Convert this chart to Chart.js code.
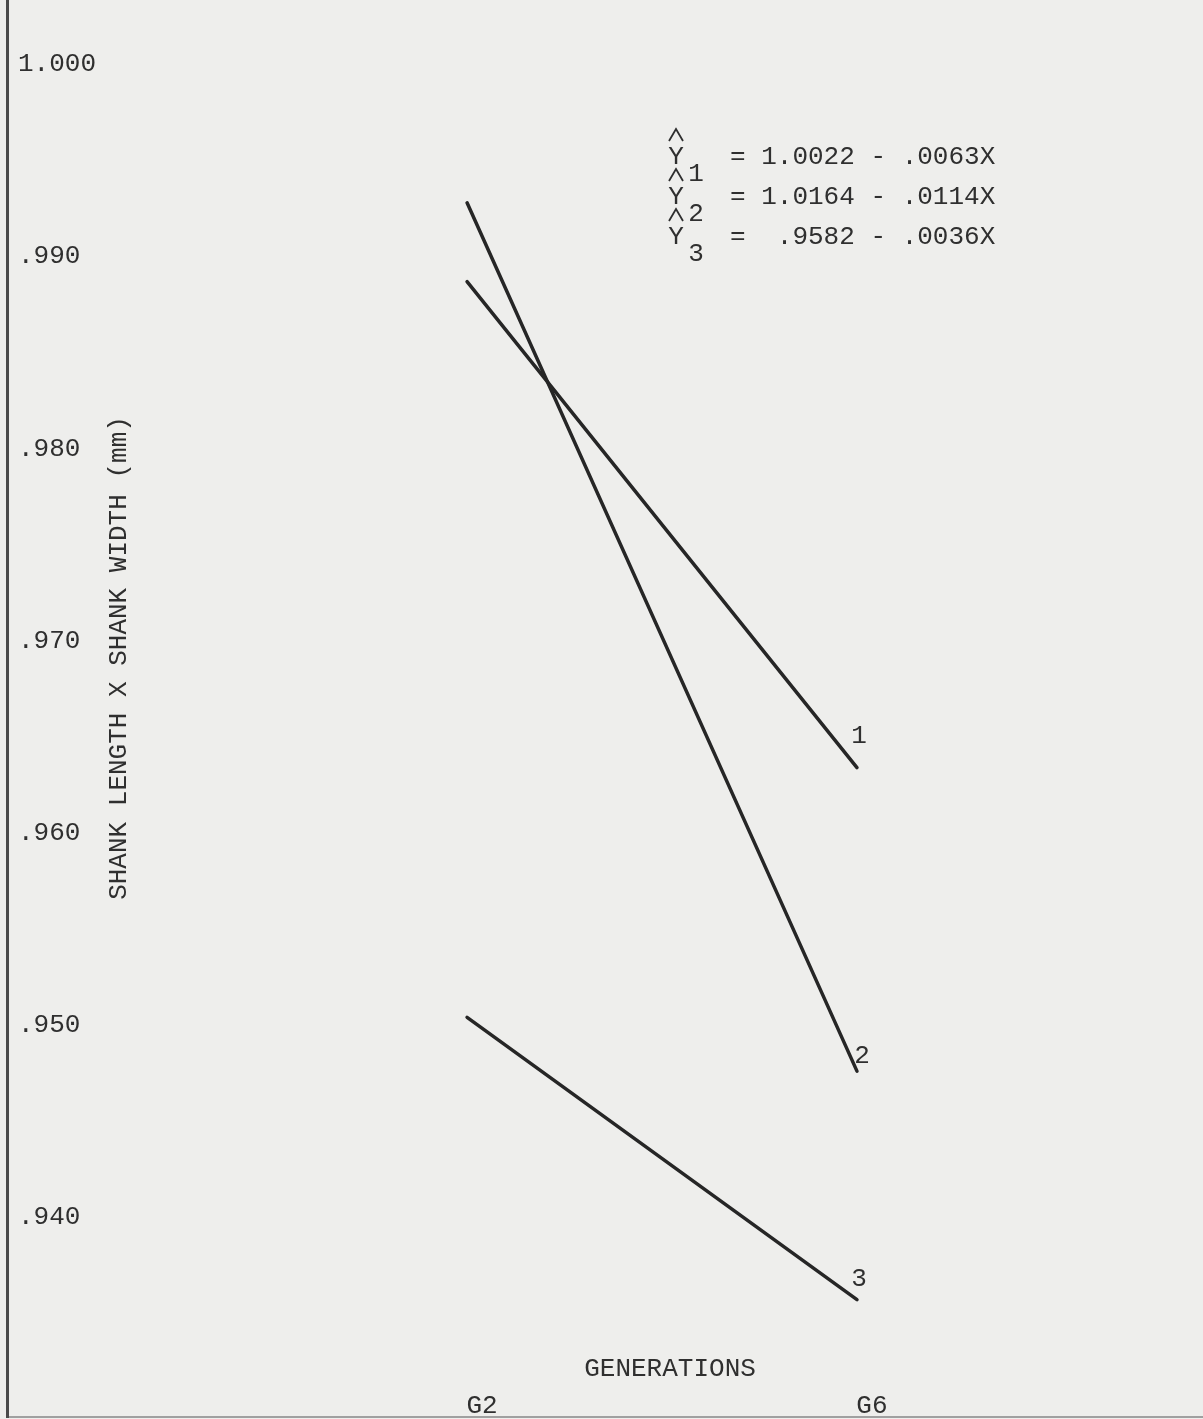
<!DOCTYPE html>
<html>
<head>
<meta charset="utf-8">
<script src="https://cdn.jsdelivr.net/npm/chart.js@4/dist/chart.umd.min.js"></script>
<style>
  html, body { margin: 0; padding: 0; background: #eeeeec; }
  #caixa { width: 1203px; height: 1419px; }
</style>
</head>
<body>
<div id="caixa"><canvas id="grafico"></canvas></div>
<script>
// dados (geracao x valor)
var geracoes = [2, 6];
var linha1 = [0.9887, 0.9634];
var linha2 = [0.9928, 0.9476];
var linha3 = [0.9504, 0.9357];
var nomesLinhas = ['1', '2', '3'];

var yTicks = [1.000, 0.990, 0.980, 0.970, 0.960, 0.950, 0.940];
var yTickLabels = ['1.000', '.990', '.980', '.970', '.960', '.950', '.940'];
var xTicks = [2, 6];
var xTickLabels = ['G2', 'G6'];

var tituloY = 'SHANK LENGTH X SHANK WIDTH (mm)';
var tituloX = 'GENERATIONS';
var equacoes = ['= 1.0022 - .0063X', '= 1.0164 - .0114X', '=  .9582 - .0036X'];

var fonte = '26px "Liberation Mono", "DejaVu Sans Mono", monospace';
var corTexto = '#2f2f2f';
var corLinha = '#262626';

function pontos(valores) {
    var lista = [];
    for (var i = 0; i < geracoes.length; i++) {
        lista.push({ x: geracoes[i], y: valores[i] });
    }
    return lista;
}

function texto(ctx, str, x, y, align) {
    ctx.textAlign = align || 'left';
    ctx.fillText(str, x, y);
}

// chapeu do Y desenhado como um V invertido
function chapeu(ctx, x, y) {
    ctx.beginPath();
    ctx.moveTo(x - 7, y + 6);
    ctx.lineTo(x, y - 6);
    ctx.lineTo(x + 7, y + 6);
    ctx.stroke();
}

// zera a area que os eixos ocupam, o grafico vai ate a borda
function semEspaco(eixo) {
    if (eixo.isHorizontal()) eixo.height = 0; else eixo.width = 0;
    eixo.paddingTop = 0;
    eixo.paddingBottom = 0;
    eixo.paddingLeft = 0;
    eixo.paddingRight = 0;
}

// fundo de papel + textos soltos
var extras = {
    id: 'extras',
    beforeDraw: function (chart) {
        var ctx = chart.ctx;
        ctx.save();
        ctx.fillStyle = '#eeeeec';
        ctx.fillRect(0, 0, chart.width, chart.height);
        ctx.restore();
    },
    afterDraw: function (chart) {
        var ctx = chart.ctx;
        var xs = chart.scales.x;
        var ys = chart.scales.y;
        ctx.save();
        ctx.fillStyle = corTexto;
        ctx.strokeStyle = corTexto;
        ctx.lineWidth = 1.8;
        ctx.font = fonte;
        ctx.textBaseline = 'middle';

        // titulo do eixo y
        ctx.save();
        ctx.translate(119, 658);
        ctx.rotate(-Math.PI / 2);
        texto(ctx, tituloY, 0, 0, 'center');
        ctx.restore();

        // titulo do eixo x
        texto(ctx, tituloX, xs.getPixelForValue(4) + 8, 1369, 'center');

        // equacoes com chapeu
        for (var i = 0; i < equacoes.length; i++) {
            var base = 157 + i * 40;
            chapeu(ctx, 676, base - 22);
            texto(ctx, 'Y', 676, base, 'center');
            texto(ctx, String(i + 1), 696, base + 17, 'center');
            texto(ctx, equacoes[i], 730, base, 'left');
        }

        // numero de cada reta na ponta
        var series = [linha1, linha2, linha3];
        var deslocY = [31, 15, 21];
        var deslocX = [2, 5, 2];
        for (var j = 0; j < series.length; j++) {
            var ult = series[j].length - 1;
            var px = xs.getPixelForValue(geracoes[ult]) + deslocX[j];
            var py = ys.getPixelForValue(series[j][ult]) - deslocY[j];
            texto(ctx, nomesLinhas[j], px, py, 'center');
        }
        ctx.restore();
    }
};

var dadosLinha = {
    borderColor: corLinha,
    borderWidth: 3.5,
    pointRadius: 0,
    borderCapStyle: 'round',
    tension: 0,
    fill: false
};

var ctxGrafico = document.getElementById('grafico');
var meuGrafico = new Chart(ctxGrafico, {
    type: 'line',
    data: {
        datasets: [
            Object.assign({ label: nomesLinhas[0], data: pontos(linha1) }, dadosLinha),
            Object.assign({ label: nomesLinhas[1], data: pontos(linha2) }, dadosLinha),
            Object.assign({ label: nomesLinhas[2], data: pontos(linha3) }, dadosLinha)
        ]
    },
    options: {
        responsive: true,
        maintainAspectRatio: false,
        animation: false,
        layout: { padding: { left: 7, right: 0, top: 0, bottom: 2 } },
        plugins: {
            legend: { display: false },
            tooltip: { enabled: false }
        },
        scales: {
            x: {
                type: 'linear',
                min: -2.72,
                max: 9.55,
                grid: { display: false, drawTicks: false },
                border: { display: true, color: '#a0a0a0', width: 2 },
                afterBuildTicks: function (eixo) {
                    eixo.ticks = xTicks.map(function (v) { return { value: v }; });
                },
                afterFit: semEspaco,
                ticks: {
                    mirror: true,
                    padding: -5,
                    labelOffset: 15,
                    color: corTexto,
                    font: { family: '"Liberation Mono", monospace', size: 26 },
                    callback: function (valor) {
                        return xTickLabels[xTicks.indexOf(valor)];
                    }
                }
            },
            y: {
                min: 0.929594,
                max: 1.003358,
                grid: { display: false, drawTicks: false },
                border: { display: true, color: '#4a4a4a', width: 3 },
                afterBuildTicks: function (eixo) {
                    eixo.ticks = yTicks.map(function (v) { return { value: v }; });
                },
                afterFit: semEspaco,
                ticks: {
                    mirror: true,
                    padding: 11,
                    color: corTexto,
                    font: { family: '"Liberation Mono", monospace', size: 26 },
                    callback: function (valor) {
                        for (var k = 0; k < yTicks.length; k++) {
                            if (Math.abs(yTicks[k] - valor) < 1e-6) return yTickLabels[k];
                        }
                        return '';
                    }
                }
            }
        }
    },
    plugins: [extras]
});
</script>
</body>
</html>
